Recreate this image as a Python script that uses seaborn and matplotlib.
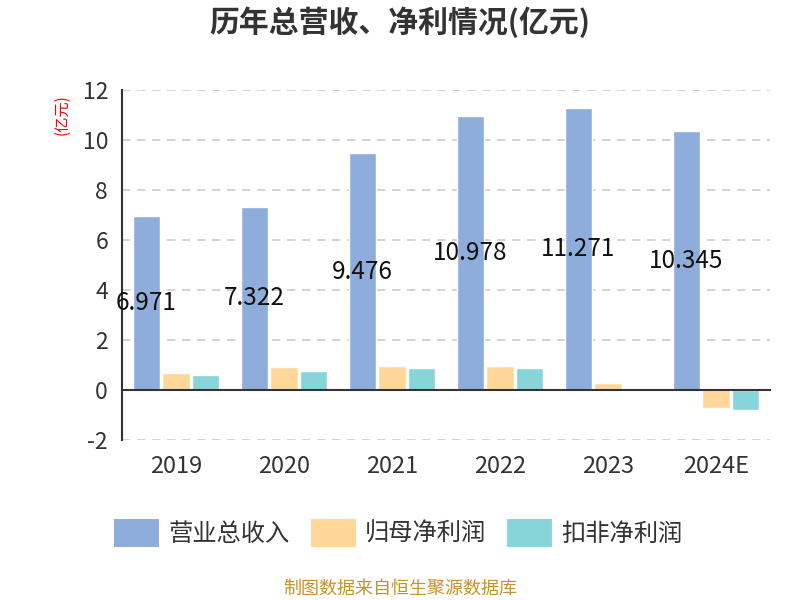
import matplotlib
matplotlib.use("Agg")
import matplotlib.pyplot as plt
import seaborn as sns
import pandas as pd
import numpy as np

years = ["2019", "2020", "2021", "2022", "2023", "2024E"]
revenue = [6.971, 7.322, 9.476, 10.978, 11.271, 10.345]
net_profit = [0.67, 0.92, 0.95, 0.97, 0.28, -0.72]
deducted_profit = [0.61, 0.77, 0.89, 0.89, 0.05, -0.81]
series_names = ["营业总收入", "归母净利润", "扣非净利润"]
colors = ["#8EADDB", "#FFD899", "#87D5D9"]

sns.set_style("white")
plt.rcParams["font.family"] = ["Noto Sans CJK SC", "DejaVu Sans"]
plt.rcParams["axes.unicode_minus"] = False

df = pd.DataFrame({
    "year": years * 3,
    "value": revenue + net_profit + deducted_profit,
    "series": [series_names[0]] * 6 + [series_names[1]] * 6 + [series_names[2]] * 6,
})

fig = plt.figure(figsize=(8, 6), dpi=100)
ax = fig.add_axes([122 / 800, 160 / 600, 648 / 800, 350 / 600])

sns.barplot(data=df, x="year", y="value", hue="series", hue_order=series_names,
            palette=colors, width=0.82, gap=0.08, errorbar=None, ax=ax,
            saturation=1)

ax.set_ylim(-2, 12)
ax.set_yticks(np.arange(-2, 13, 2))
ax.set_xlim(-0.5, len(years) - 0.5)
ax.set_xlabel("")
ax.set_ylabel("")

# grid
ax.yaxis.grid(True, linestyle=(0, (5, 4)), color="#CCCCCC", linewidth=1.2)
ax.set_axisbelow(True)

for s in ["top", "right"]:
    ax.spines[s].set_visible(False)
ax.spines["left"].set_color("#333333")
ax.spines["left"].set_linewidth(1.5)
ax.spines["bottom"].set_position(("data", 0))
ax.spines["bottom"].set_color("#333333")
ax.spines["bottom"].set_linewidth(1.5)

ax.tick_params(axis="y", direction="out", length=6, width=1.5, color="#333333",
               labelsize=16.5, labelcolor="#333333", pad=4)
ax.set_xticks(np.arange(len(years)))
ax.set_xticklabels(years)
ax.set_xticks(np.arange(len(years) + 1) - 0.5, minor=True)
ax.tick_params(axis="x", which="major", length=0, labelsize=17,
               labelcolor="#333333", pad=47)
ax.tick_params(axis="x", which="minor", direction="out", length=7, width=1.5,
               color="#333333")

# value labels for revenue
ax.bar_label(ax.containers[0], labels=[f"{v:.3f}" for v in revenue],
             label_type="center", fontsize=17.5, color="#111111")

# legend
handles, labels = ax.get_legend_handles_labels()
if ax.legend_ is not None:
    ax.legend_.remove()
for h, c in zip(handles, colors):
    h.set_edgecolor(c)
    h.set_linewidth(5)
    h.set_joinstyle("round")
fig.legend(handles, labels, loc="center", bbox_to_anchor=(0.5, 1 - 534 / 600),
           ncol=3, frameon=False, fontsize=17.5, handlelength=1.55, handleheight=0.95,
           handletextpad=0.55, columnspacing=1.0, labelcolor="#333333")

fig.text(0.5, 1 - 22 / 600, "历年总营收、净利情况(亿元)", ha="center", va="center",
         fontsize=21.5, fontweight="bold", color="#333333")
fig.text(62 / 800, 1 - 115 / 600, "(亿元)", ha="center", va="center", rotation=90,
         fontsize=11, color="red")
fig.text(0.5, 1 - 589 / 600, "制图数据来自恒生聚源数据库", ha="center", va="center",
         fontsize=13, color="#C8922B")

fig.savefig("out.png", dpi=100)
